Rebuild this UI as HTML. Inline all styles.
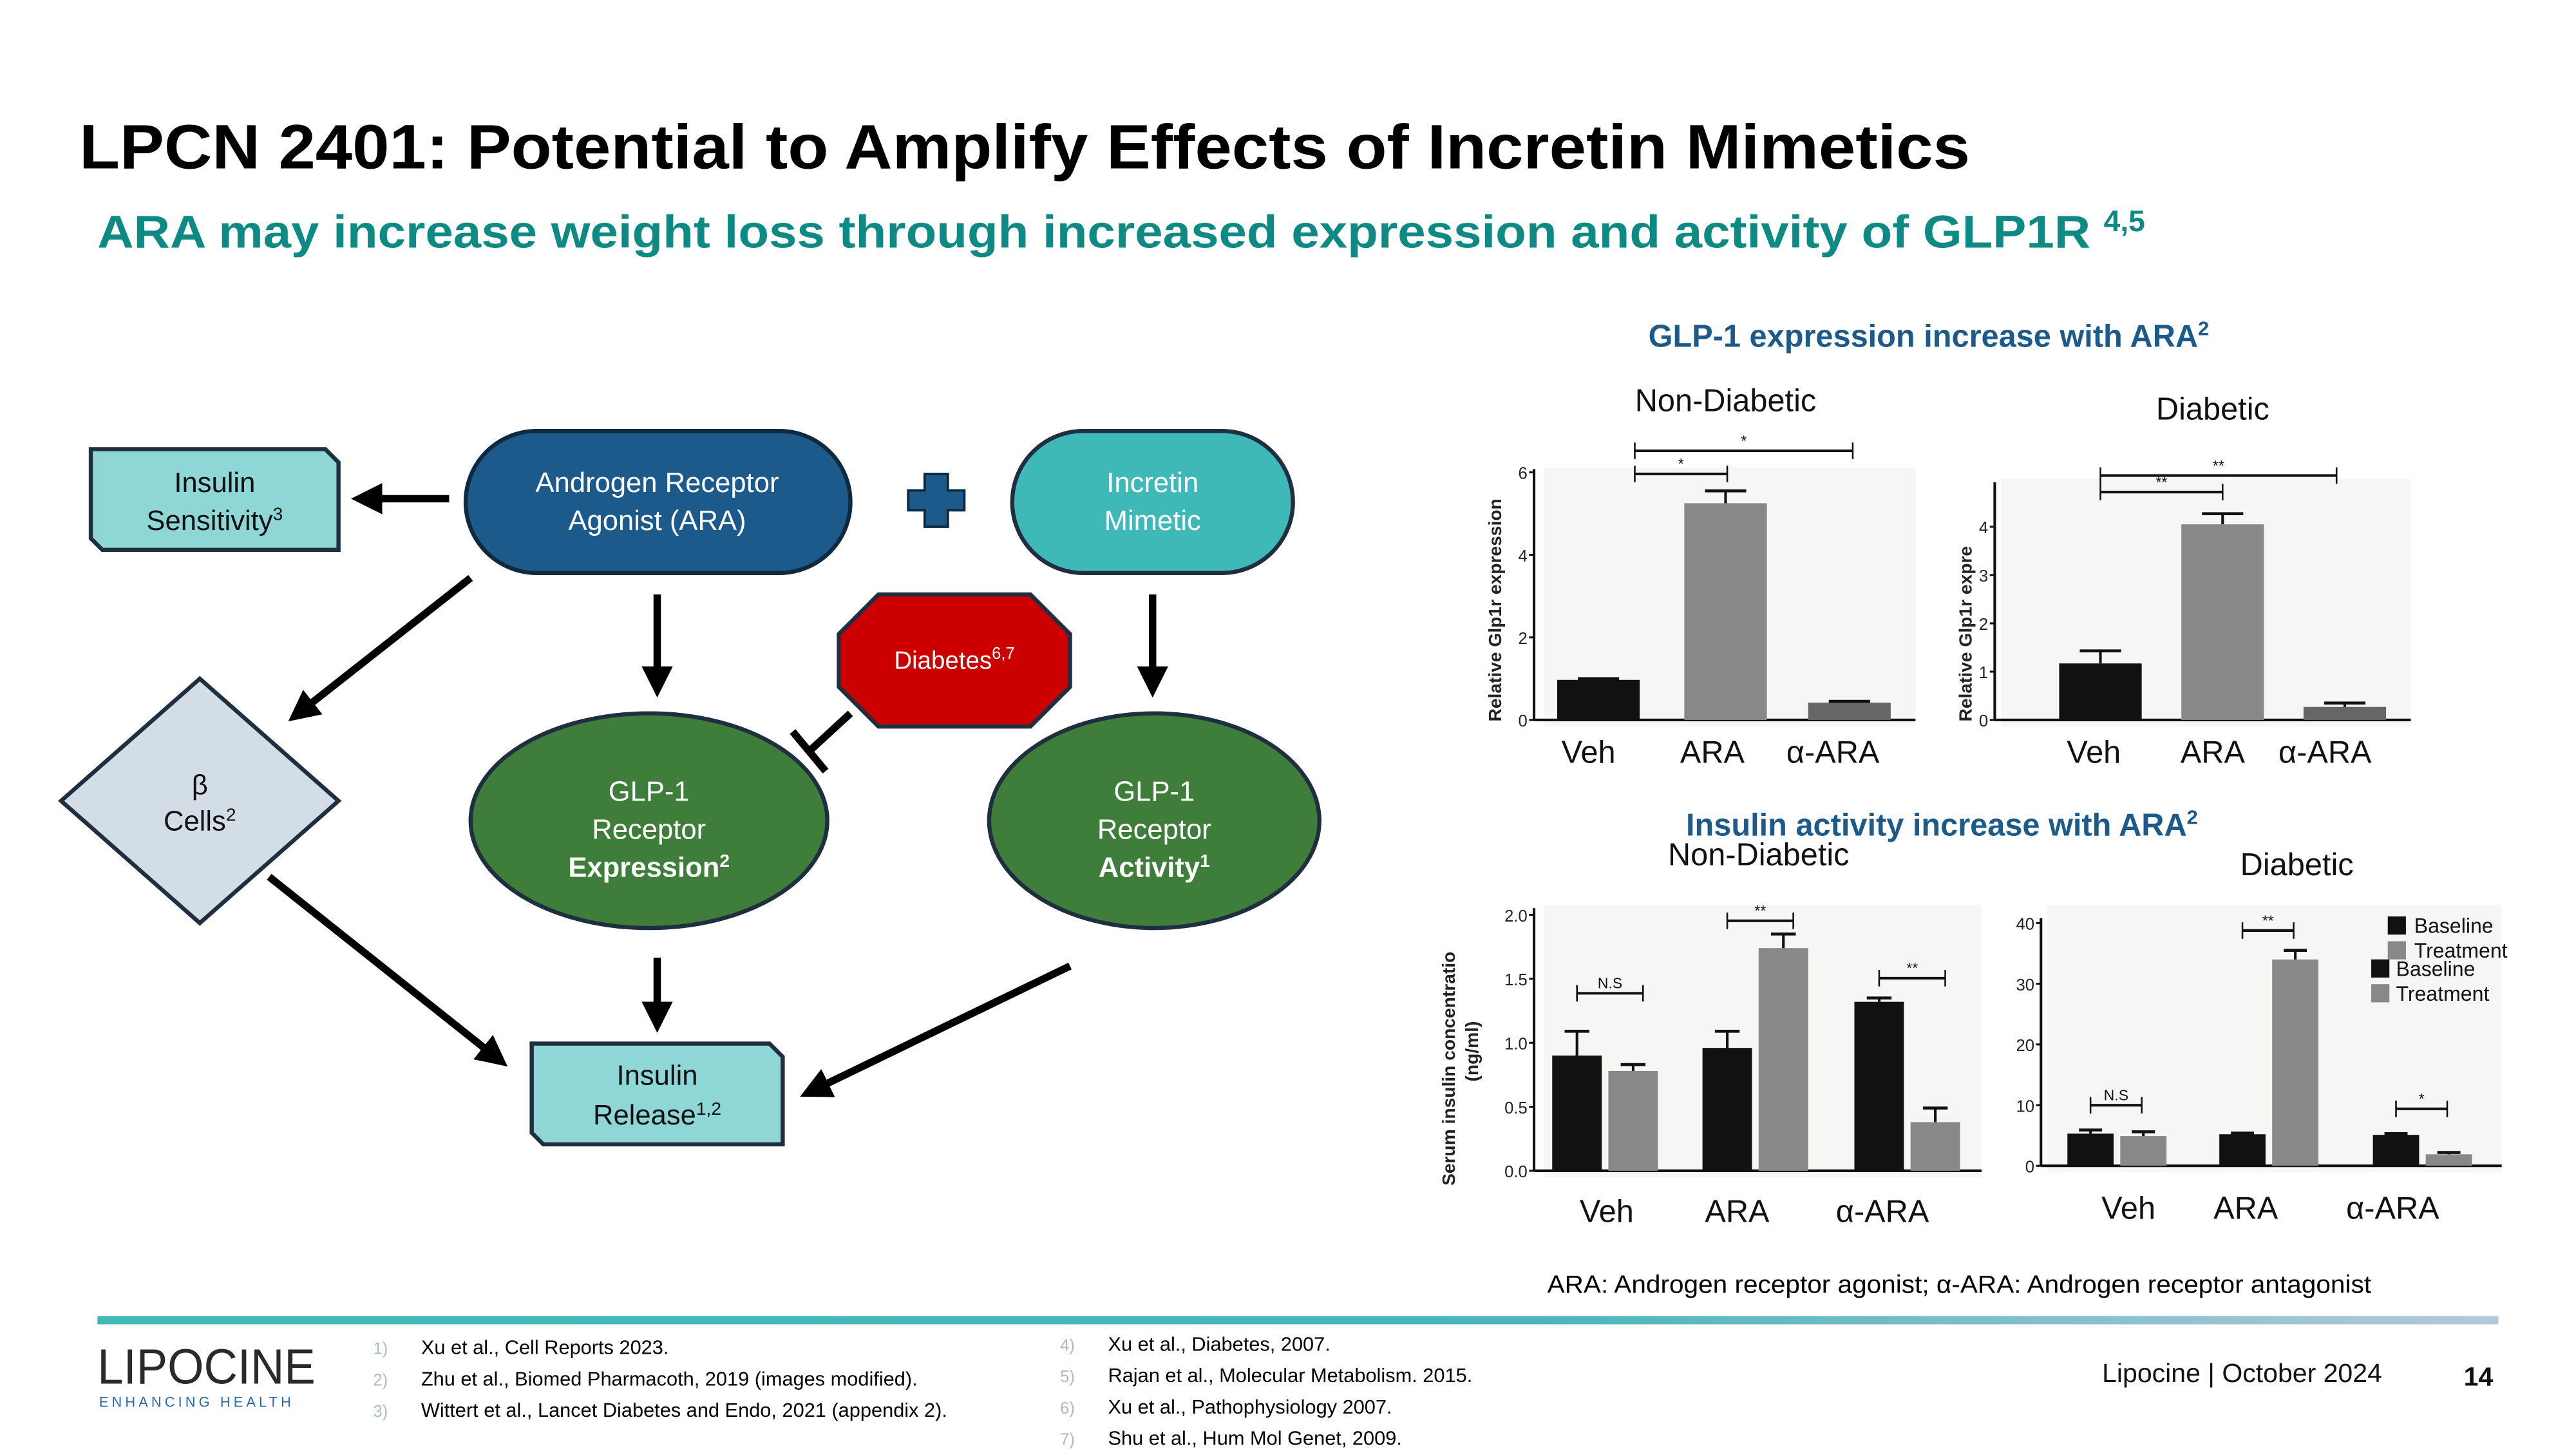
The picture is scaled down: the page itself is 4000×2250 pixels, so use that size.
<!DOCTYPE html>
<html><head><meta charset="utf-8"><style>
html,body{margin:0;padding:0;background:#fff;}
svg{display:block;}
text{font-family:"Liberation Sans",sans-serif;}
</style></head><body>
<svg id="s" width="4000" height="2250" viewBox="0 0 1560 877.5" xmlns="http://www.w3.org/2000/svg">
<defs>
<marker id="ah" viewBox="0 0 10 10" refX="5" refY="5" markerWidth="4.2" markerHeight="4.2" orient="auto-start-reverse"><path d="M0,0 L10,5 L0,10 z" fill="#000"/></marker>
<linearGradient id="fg" x1="0" x2="1"><stop offset="0" stop-color="#3fb8b8"/><stop offset="0.6" stop-color="#4ab6ba"/><stop offset="1" stop-color="#b4c8dc"/></linearGradient>
</defs>
<text x="48" y="102" font-size="38" font-weight="bold" fill="#000" textLength="1145" lengthAdjust="spacingAndGlyphs">LPCN 2401: Potential to Amplify Effects of Incretin Mimetics</text>
<text x="59" y="150" font-size="28" font-weight="bold" fill="#0e8a85"><tspan textLength="1207" lengthAdjust="spacingAndGlyphs">ARA may increase weight loss through increased expression and activity of GLP1R</tspan><tspan font-size="18" dx="8" dy="-10">4,5</tspan></text>

<g stroke-width="2.5">
<path d="M55,272 H197 L205,280 V333 H62 L55,326 Z" fill="#8fd6d6" stroke="#1f2f3f"/>
<text x="130" y="298" font-size="17" text-anchor="middle" fill="#111">Insulin</text>
<text x="130" y="321" font-size="17" text-anchor="middle" fill="#111">Sensitivity<tspan font-size="11" dy="-6">3</tspan></text>
<rect x="282" y="261" width="233" height="86" rx="43" fill="#1b5a8a" stroke="#0f2a40"/>
<text x="398" y="298" font-size="17" text-anchor="middle" fill="#fff">Androgen Receptor</text>
<text x="398" y="321" font-size="17" text-anchor="middle" fill="#fff">Agonist (ARA)</text>
<path d="M560,287 h14 v10 h10 v12 h-10 v10 h-14 v-10 h-10 v-12 h10 z" fill="#1b5a8a" stroke="#0f2a40" stroke-width="1.5"/>
<rect x="613" y="261" width="170" height="86" rx="43" fill="#3fb8b8" stroke="#1f2f3f"/>
<text x="698" y="298" font-size="17" text-anchor="middle" fill="#fff">Incretin</text>
<text x="698" y="321" font-size="17" text-anchor="middle" fill="#fff">Mimetic</text>
<path d="M532,360 H624 L648,384 V416 L624,440 H532 L508,416 V384 Z" fill="#cc0000" stroke="#1f2f3f"/>
<text x="578" y="405" font-size="15" text-anchor="middle" fill="#fff">Diabetes<tspan font-size="10" dy="-6">6,7</tspan></text>
<path d="M121,411 L205,485 L121,559 L37,485 Z" fill="#d3dde6" stroke="#1f2f3f"/>
<text x="121" y="481" font-size="17" text-anchor="middle" fill="#111">β</text>
<text x="121" y="503" font-size="17" text-anchor="middle" fill="#111">Cells<tspan font-size="11" dy="-6">2</tspan></text>
<ellipse cx="393" cy="497" rx="108" ry="65" fill="#3f7d3a" stroke="#1f2f3f"/>
<text x="393" y="485" font-size="17" text-anchor="middle" fill="#fff">GLP-1</text>
<text x="393" y="508" font-size="17" text-anchor="middle" fill="#fff">Receptor</text>
<text x="393" y="531" font-size="17" text-anchor="middle" fill="#fff" font-weight="bold">Expression<tspan font-size="11" dy="-6">2</tspan></text>
<ellipse cx="699" cy="497" rx="100" ry="65" fill="#3f7d3a" stroke="#1f2f3f"/>
<text x="699" y="485" font-size="17" text-anchor="middle" fill="#fff">GLP-1</text>
<text x="699" y="508" font-size="17" text-anchor="middle" fill="#fff">Receptor</text>
<text x="699" y="531" font-size="17" text-anchor="middle" fill="#fff" font-weight="bold">Activity<tspan font-size="11" dy="-6">1</tspan></text>
<path d="M322,632 H466 L474,640 V693 H329 L322,686 Z" fill="#8fd6d6" stroke="#1f2f3f"/>
<text x="398" y="657" font-size="17" text-anchor="middle" fill="#111">Insulin</text>
<text x="398" y="681" font-size="17" text-anchor="middle" fill="#111">Release<tspan font-size="11" dy="-6">1,2</tspan></text>
<g stroke="#000" stroke-width="4.5" fill="none" marker-end="url(#ah)">
<line x1="272" y1="302" x2="222" y2="302"/>
<line x1="285" y1="350" x2="182" y2="431"/>
<line x1="398" y1="360" x2="398" y2="413"/>
<line x1="698" y1="360" x2="698" y2="413"/>
<line x1="398" y1="580" x2="398" y2="616"/>
<line x1="163" y1="531" x2="300" y2="640"/>
<line x1="648" y1="585" x2="493" y2="660"/>
</g>
<g stroke="#000" stroke-width="4.5">
<line x1="515" y1="432" x2="490" y2="455"/><line x1="480" y1="443" x2="500" y2="467"/>
</g>
</g>

<text x="1168" y="210" font-size="19" font-weight="bold" fill="#1b5a8a" text-anchor="middle">GLP-1 expression increase with ARA<tspan font-size="12" dy="-7">2</tspan></text>
<text x="1045" y="249" font-size="19" text-anchor="middle" fill="#111">Non-Diabetic</text>
<text x="1340" y="254" font-size="19" text-anchor="middle" fill="#111">Diabetic</text>
<text x="1176" y="506" font-size="19" font-weight="bold" fill="#1b5a8a" text-anchor="middle">Insulin activity increase with ARA<tspan font-size="12" dy="-7">2</tspan></text>
<text x="1065" y="524" font-size="19" text-anchor="middle" fill="#111">Non-Diabetic</text>
<text x="1391" y="530" font-size="19" text-anchor="middle" fill="#111">Diabetic</text>
<g id="charts"></g>
<text x="937" y="783" font-size="15" fill="#000" textLength="499" lengthAdjust="spacingAndGlyphs">ARA: Androgen receptor agonist;  α-ARA: Androgen receptor antagonist</text>

<rect x="59" y="797" width="1454" height="5" fill="url(#fg)"/>
<text x="59" y="838" font-size="30" fill="#2a2a2a" textLength="132" lengthAdjust="spacingAndGlyphs">LIPOCINE</text>
<text x="60" y="852" font-size="8.5" fill="#2a6aa8" letter-spacing="2">ENHANCING HEALTH</text>
<g font-size="12">
<text x="226" y="820" fill="#a8bccc" font-size="10">1)</text><text x="255" y="820">Xu et al., Cell Reports 2023.</text>
<text x="226" y="839" fill="#a8bccc" font-size="10">2)</text><text x="255" y="839">Zhu et al., Biomed Pharmacoth, 2019 (images modified).</text>
<text x="226" y="858" fill="#a8bccc" font-size="10">3)</text><text x="255" y="858">Wittert et al., Lancet Diabetes and Endo, 2021 (appendix 2).</text>
<text x="642" y="818" fill="#a8bccc" font-size="10">4)</text><text x="671" y="818">Xu et al., Diabetes, 2007.</text>
<text x="642" y="837" fill="#a8bccc" font-size="10">5)</text><text x="671" y="837">Rajan et al., Molecular Metabolism. 2015.</text>
<text x="642" y="856" fill="#a8bccc" font-size="10">6)</text><text x="671" y="856">Xu et al., Pathophysiology 2007.</text>
<text x="642" y="875" fill="#a8bccc" font-size="10">7)</text><text x="671" y="875">Shu et al., Hum Mol Genet, 2009.</text>
</g>
<text x="1273" y="837" font-size="16" fill="#111">Lipocine | October 2024</text>
<text x="1492" y="839" font-size="16" font-weight="bold" fill="#111">14</text>
</svg>
<script>
const categories = ["Veh","ARA","α-ARA"];
const c1Values = [0.97, 5.25, 0.42];
const c1Errors = [1.0, 5.55, 0.45];
const c1Ticks = [0, 2, 4, 6];
const c2Values = [1.17, 4.05, 0.27];
const c2Errors = [1.43, 4.27, 0.35];
const c2Ticks = [0, 1, 2, 3, 4];
const c3Baseline = [0.90, 0.96, 1.32];
const c3Treatment = [0.78, 1.74, 0.38];
const c3BaselineErr = [1.09, 1.09, 1.35];
const c3TreatmentErr = [0.83, 1.85, 0.49];
const c3Ticks = ["0.0","0.5","1.0","1.5","2.0"];
const c4Baseline = [5.3, 5.2, 5.1];
const c4Treatment = [4.9, 34, 1.9];
const c4BaselineErr = [5.9, 5.4, 5.3];
const c4TreatmentErr = [5.6, 35.5, 2.2];
const c4Ticks = [0, 10, 20, 30, 40];
const sigLabels3 = ["N.S","**","**"];
const sigLabels4 = ["N.S","**","*"];

const NS='http://www.w3.org/2000/svg';
const root=document.getElementById('charts');
function el(tag,attrs,parent,txt){const e=document.createElementNS(NS,tag);for(const k in attrs)e.setAttribute(k,attrs[k]);if(txt!==undefined)e.textContent=txt;(parent||root).appendChild(e);return e;}
function yScale(y0,y1,vmax){return v=>y0-(y0-y1)*v/vmax;}

function axes(g,x0,xEnd,y0,yTop,ticks,ys,bgX,bgY){
  el('rect',{x:bgX,y:bgY,width:xEnd-bgX,height:y0-bgY+4,fill:'#f6f6f4'},g);
  el('line',{x1:x0,y1:y0,x2:xEnd,y2:y0,stroke:'#111','stroke-width':1.6},g);
  el('line',{x1:x0,y1:y0,x2:x0,y2:yTop,stroke:'#111','stroke-width':1.6},g);
  ticks.forEach(t=>{const y=ys(parseFloat(t));
    el('line',{x1:x0-3,y1:y,x2:x0,y2:y,stroke:'#111','stroke-width':1.2},g);
    el('text',{x:x0-4,y:y+4,'font-size':10,'text-anchor':'end',fill:'#222'},g,String(t));
  });
}
function bar(g,cx,w,v,e,ys,fill){
  const y0=ys(0),y=ys(v),ye=ys(e);
  const r=el('rect',{x:cx-w/2,y:y,width:w,height:y0-y,fill:fill},g);
  
  
  el('line',{x1:cx,y1:y,x2:cx,y2:ye,stroke:'#111','stroke-width':1.6},g);
  el('line',{x1:cx-w/4,y1:ye,x2:cx+w/4,y2:ye,stroke:'#111','stroke-width':1.8},g);
}
function sig(g,xa,xb,y,lbl){
  el('line',{x1:xa,y1:y,x2:xb,y2:y,stroke:'#111','stroke-width':1.6},g);
  el('line',{x1:xa,y1:y-5,x2:xa,y2:y+5,stroke:'#111','stroke-width':1},g);
  el('line',{x1:xb,y1:y-5,x2:xb,y2:y+5,stroke:'#111','stroke-width':1},g);
  el('text',{x:(xa+xb)/2,y:y-3,'font-size':9,'text-anchor':'middle',fill:'#111'},g,lbl);
}
function xlabels(g,xs,y){categories.forEach((c,i)=>{const t=el('text',{x:xs[i],y:y,'font-size':19,'text-anchor':'middle',fill:'#111'},g,c);
  
  });}

// Chart 1
let g=el('g',{});


let ys=yScale(436,286,6);
axes(g,929,1160,436,284,c1Ticks,ys,935,283);
const x1=[968,1045,1120];
categories.forEach((c,i)=>bar(g,x1[i],50,c1Values[i],c1Errors[i],ys,['#111','#888','#666'][i]));
sig(g,990,1046,287,'*');sig(g,990,1122,273,'*');
el('text',{x:0,y:0,'font-size':11,'font-weight':'bold',transform:'translate(909,437) rotate(-90)',fill:'#222'},g,'Relative Glp1r expression');
xlabels(g,[962,1037,1110],462);

// Chart 2
g=el('g',{});


ys=yScale(436,319,4);
axes(g,1208,1460,436,292,c2Ticks,ys,1212,290);
const x2=[1272,1346,1420];
categories.forEach((c,i)=>bar(g,x2[i],50,c2Values[i],c2Errors[i],ys,['#111','#888','#666'][i]));
sig(g,1272,1346,298,'**');sig(g,1272,1415,288,'**');
el('text',{x:0,y:0,'font-size':11,'font-weight':'bold',transform:'translate(1194,437) rotate(-90)',fill:'#222'},g,'Relative Glp1r expre');
xlabels(g,[1268,1340,1408],462);

// Chart 3
g=el('g',{});


ys=yScale(709,554,2);
axes(g,929,1200,709,550,c3Ticks,ys,935,548);
const x3=[955,1046,1138];
categories.forEach((c,i)=>{bar(g,x3[i],30,c3Baseline[i],c3BaselineErr[i],ys,'#111');bar(g,x3[i]+34,30,c3Treatment[i],c3TreatmentErr[i],ys,'#888');});
categories.forEach((c,i)=>{const yy=ys(Math.max(c3BaselineErr[i],c3TreatmentErr[i]))-(i===0?23:i===1?8:12);sig(g,x3[i],x3[i]+40,yy,sigLabels3[i]);});
el('text',{x:0,y:0,'font-size':11,'font-weight':'bold',transform:'translate(881,718) rotate(-90)',fill:'#222'},g,'Serum insulin concentratio');
el('text',{x:0,y:0,'font-size':11,'font-weight':'bold',transform:'translate(895,655) rotate(-90)',fill:'#222'},g,'(ng/ml)');
xlabels(g,[973,1052,1140],740);

// Chart 4
g=el('g',{});


ys=yScale(706,559,40);
axes(g,1236,1515,706,556,c4Ticks,ys,1240,548);
const x4=[1266,1358,1451];
categories.forEach((c,i)=>{bar(g,x4[i],28,c4Baseline[i],c4BaselineErr[i],ys,'#111');bar(g,x4[i]+32,28,c4Treatment[i],c4TreatmentErr[i],ys,'#888');});
categories.forEach((c,i)=>{const yy=ys(Math.max(c4BaselineErr[i],c4TreatmentErr[i]))-(i===1?12:15);sig(g,x4[i],x4[i]+31,yy,sigLabels4[i]);});
[[1446,555,'#111','Baseline',1462],[1446,570,'#888','Treatment',1462],[1436,581,'#111','Baseline',1451],[1436,596,'#888','Treatment',1451]].forEach(l=>{
  el('rect',{x:l[0],y:l[1],width:11,height:11,fill:l[2]},g);
  const t=el('text',{x:l[4],y:l[1]+10,'font-size':12.5,fill:'#111'},g,l[3]);
  
  
});
xlabels(g,[1289,1360,1449],738);
</script>
</body></html>
